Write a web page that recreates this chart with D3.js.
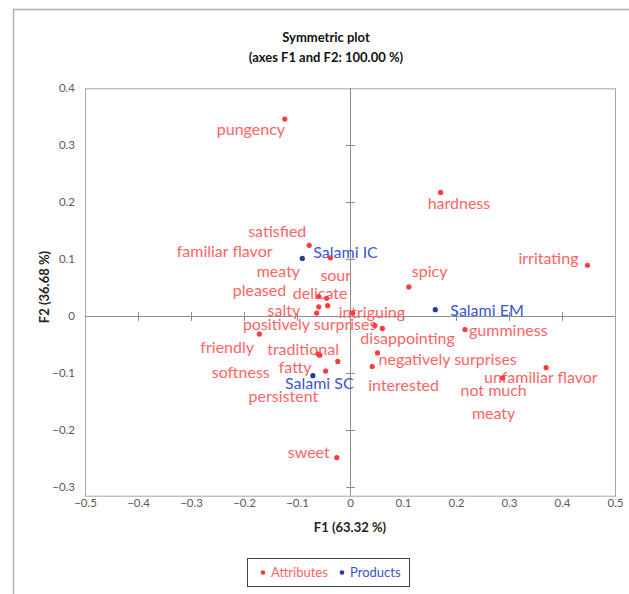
<!DOCTYPE html>
<html>
<head>
<meta charset="utf-8">
<script src="https://cdn.jsdelivr.net/npm/d3@7"></script>
<style>
  html, body { margin: 0; padding: 0; background: #fff; }
  svg { display: block; }
  text { font-family: Lato, "Open Sans", sans-serif; }
</style>
</head>
<body>
<svg id="chart" width="629" height="594"></svg>
<script>
// ---- data ----
const attrNames = ["pungency","hardness","satisfied","sour","irritating","spicy",
  "familiar flavor","meaty","pleased","delicate","salty","intriguing",
  "positively surprises","disappointing","gumminess","negatively surprises",
  "interested","unfamiliar flavor","not much meaty","friendly","traditional",
  "fatty","softness","persistent","sweet"];
const attrF1 = [-0.123, 0.171, -0.077, -0.037, 0.448, 0.111,
  -0.059, -0.044, -0.059, -0.042, -0.063, 0.005,
  0.047, 0.061, 0.217, 0.052,
  0.042, 0.370, 0.288, -0.171, -0.060,
  -0.023, -0.057, -0.046, -0.025];
const attrF2 = [0.346, 0.217, 0.124, 0.102, 0.089, 0.051,
  0.034, 0.031, 0.016, 0.018, 0.005, 0.005,
  -0.017, -0.022, -0.024, -0.065,
  -0.089, -0.091, -0.109, -0.032, -0.067,
  -0.080, -0.069, -0.097, -0.249];
const prodNames = ["Salami IC","Salami EM","Salami SC"];
const prodF1 = [-0.090, 0.161, -0.070];
const prodF2 = [0.101, 0.011, -0.105];
const xTicks = [-0.5,-0.4,-0.3,-0.2,-0.1,0,0.1,0.2,0.3,0.4,0.5];
const yTicks = [-0.3,-0.2,-0.1,0,0.1,0.2,0.3,0.4];
const titleLines = ["Symmetric plot", "(axes F1 and F2: 100.00 %)"];
const xTitle = "F1 (63.32 %)";
const yTitle = "F2 (36.68 %)";
const legendNames = ["Attributes", "Products"];

// label placement (pixel offsets of label start from its point; styling only)
const labelOffset = {
  "pungency":[-68,10], "hardness":[-13,11], "satisfied":[-61,-14], "sour":[-10,18],
  "irritating":[-69,-7], "spicy":[3,-15], "familiar flavor":[-142,-45], "meaty":[-70,-27],
  "pleased":[-86,-16], "delicate":[-35,-12], "salty":[-49,-3], "intriguing":[-14,-1],
  "positively surprises":[-132,-1], "disappointing":[-22,10], "gumminess":[4,1],
  "negatively surprises":[1,7], "interested":[-4,19], "unfamiliar flavor":[-62,10],
  "not much meaty":[-9,12], "friendly":[-59,13], "traditional":[-51,-5],
  "fatty":[-59,6], "softness":[-108,17], "persistent":[-77,25], "sweet":[-49,-5],
  "Salami IC":[11,-6], "Salami EM":[15,1], "Salami SC":[-28,8]
};

// ---- styles ----
const RED_DOT = "#ff3b3b", RED_TXT = "#ff6464";
const BLUE_DOT = "#1f3f9a", BLUE_TXT = "#3a55d0";
const GRID = "#a6a6a6";

const svg = d3.select("#chart");

// outer frame
svg.append("rect").attr("x", 13.5).attr("y", 9.5).attr("width", 640).attr("height", 620)
  .attr("fill", "none").attr("stroke", "#b0b0b0").attr("stroke-width", 1.5);

const x = d3.scaleLinear().domain([-0.5, 0.5]).range([85, 615]);
const y = d3.scaleLinear().domain([-0.316, 0.4]).range([495.7, 88.3]);

// title
svg.selectAll("text.title").data(titleLines).join("text")
  .attr("class", "title")
  .attr("x", 326).attr("y", (d, i) => 37 + i * 20).attr("dy", "0.35em")
  .attr("text-anchor", "middle").attr("font-size", 13).attr("font-weight", "bold")
  .attr("fill", "#111").text(d => d);

// plot frame
svg.append("rect")
  .attr("x", x.range()[0] + 0.5).attr("y", y.range()[1] + 0.5)
  .attr("width", x.range()[1] - x.range()[0]).attr("height", y.range()[0] - y.range()[1])
  .attr("fill", "none").attr("stroke", GRID).attr("stroke-width", 1);

// zero lines
svg.append("line").attr("x1", x.range()[0]).attr("x2", x.range()[1])
  .attr("y1", Math.round(y(0)) + 0.5).attr("y2", Math.round(y(0)) + 0.5)
  .attr("stroke", "#8c8c8c");
svg.append("line").attr("y1", y.range()[0]).attr("y2", y.range()[1])
  .attr("x1", Math.round(x(0)) + 0.5).attr("x2", Math.round(x(0)) + 0.5)
  .attr("stroke", "#8c8c8c");

// tick crosses on zero lines
svg.append("g").selectAll("line").data(xTicks.filter(t => t !== 0 && Math.abs(t) < 0.5)).join("line")
  .attr("x1", d => Math.round(x(d)) + 0.5).attr("x2", d => Math.round(x(d)) + 0.5)
  .attr("y1", y(0) - 4).attr("y2", y(0) + 5).attr("stroke", "#8c8c8c");
svg.append("g").selectAll("line").data(yTicks.filter(t => t !== 0 && t < 0.4)).join("line")
  .attr("y1", d => Math.round(y(d)) + 0.5).attr("y2", d => Math.round(y(d)) + 0.5)
  .attr("x1", x(0) - 4).attr("x2", x(0) + 5).attr("stroke", "#8c8c8c");

const fmt = d => d === 0 ? "0" : (d < 0 ? "\u2212" : "") + Math.abs(d).toFixed(1);

// axes tick labels
const gx = svg.append("g").attr("transform", `translate(0,${y.range()[0]})`)
  .call(d3.axisBottom(x).tickValues(xTicks).tickFormat(fmt).tickSize(0).tickPadding(3));
gx.select(".domain").remove();
gx.selectAll("text").attr("font-size", 11.5).attr("fill", "#595959")
  .attr("font-family", "Lato, sans-serif");

const gy = svg.append("g").attr("transform", `translate(${x.range()[0]},0)`)
  .call(d3.axisLeft(y).tickValues(yTicks).tickFormat(fmt).tickSize(0).tickPadding(10));
gy.select(".domain").remove();
gy.selectAll("text").attr("font-size", 11.5).attr("fill", "#595959")
  .attr("font-family", "Lato, sans-serif");

// axis titles
svg.append("text").attr("x", 350).attr("y", 527).attr("dy", "0.35em")
  .attr("text-anchor", "middle").attr("font-size", 13).attr("font-weight", "bold")
  .attr("fill", "#222").text(xTitle);
svg.append("text").attr("transform", "translate(44,287) rotate(-90)").attr("dy", "0.35em")
  .attr("text-anchor", "middle").attr("font-size", 13).attr("font-weight", "bold")
  .attr("fill", "#222").text(yTitle);

// attributes
const attrs = attrNames.map((n, i) => ({name: n, f1: attrF1[i], f2: attrF2[i]}));
const prods = prodNames.map((n, i) => ({name: n, f1: prodF1[i], f2: prodF2[i]}));

function drawLabels(sel, color) {
  sel.each(function(d) {
    const o = labelOffset[d.name] || [4, 0];
    const t = d3.select(this);
    if (d.name === "not much meaty") {
      t.attr("text-anchor", "middle");
      t.append("tspan").attr("x", x(d.f1) + o[0]).attr("y", y(d.f2) + o[1]).attr("dy", "0.35em").text("not much");
      t.append("tspan").attr("x", x(d.f1) + o[0]).attr("y", y(d.f2) + o[1] + 23).attr("dy", "0.35em").text("meaty");
    } else {
      t.attr("x", x(d.f1) + o[0]).attr("y", y(d.f2) + o[1]).attr("dy", "0.35em").text(d.name);
    }
  });
  sel.attr("font-size", 16).attr("fill", color);
}

svg.append("g").selectAll("text").data(attrs).join("text").call(drawLabels, RED_TXT);
svg.append("g").selectAll("text").data(prods).join("text").call(drawLabels, BLUE_TXT);

svg.append("g").selectAll("circle").data(attrs).join("circle")
  .attr("cx", d => x(d.f1)).attr("cy", d => y(d.f2)).attr("r", 2.6).attr("fill", RED_DOT);
svg.append("g").selectAll("circle").data(prods).join("circle")
  .attr("cx", d => x(d.f1)).attr("cy", d => y(d.f2)).attr("r", 2.6).attr("fill", BLUE_DOT);

// legend
const lg = svg.append("g");
lg.append("rect").attr("x", 247.5).attr("y", 558.5).attr("width", 162).attr("height", 28)
  .attr("fill", "#fff").attr("stroke", "#404040").attr("stroke-width", 1);
const legX = [263, 342];
const legDot = [RED_DOT, BLUE_DOT];
const legTxt = [RED_TXT, BLUE_TXT];
legendNames.forEach((n, i) => {
  lg.append("circle").attr("cx", legX[i]).attr("cy", 572.5).attr("r", 2.3).attr("fill", legDot[i]);
  lg.append("text").attr("x", legX[i] + 8).attr("y", 572.5).attr("dy", "0.35em")
    .attr("font-size", 13).attr("fill", legTxt[i]).text(n);
});
</script>
</body>
</html>
